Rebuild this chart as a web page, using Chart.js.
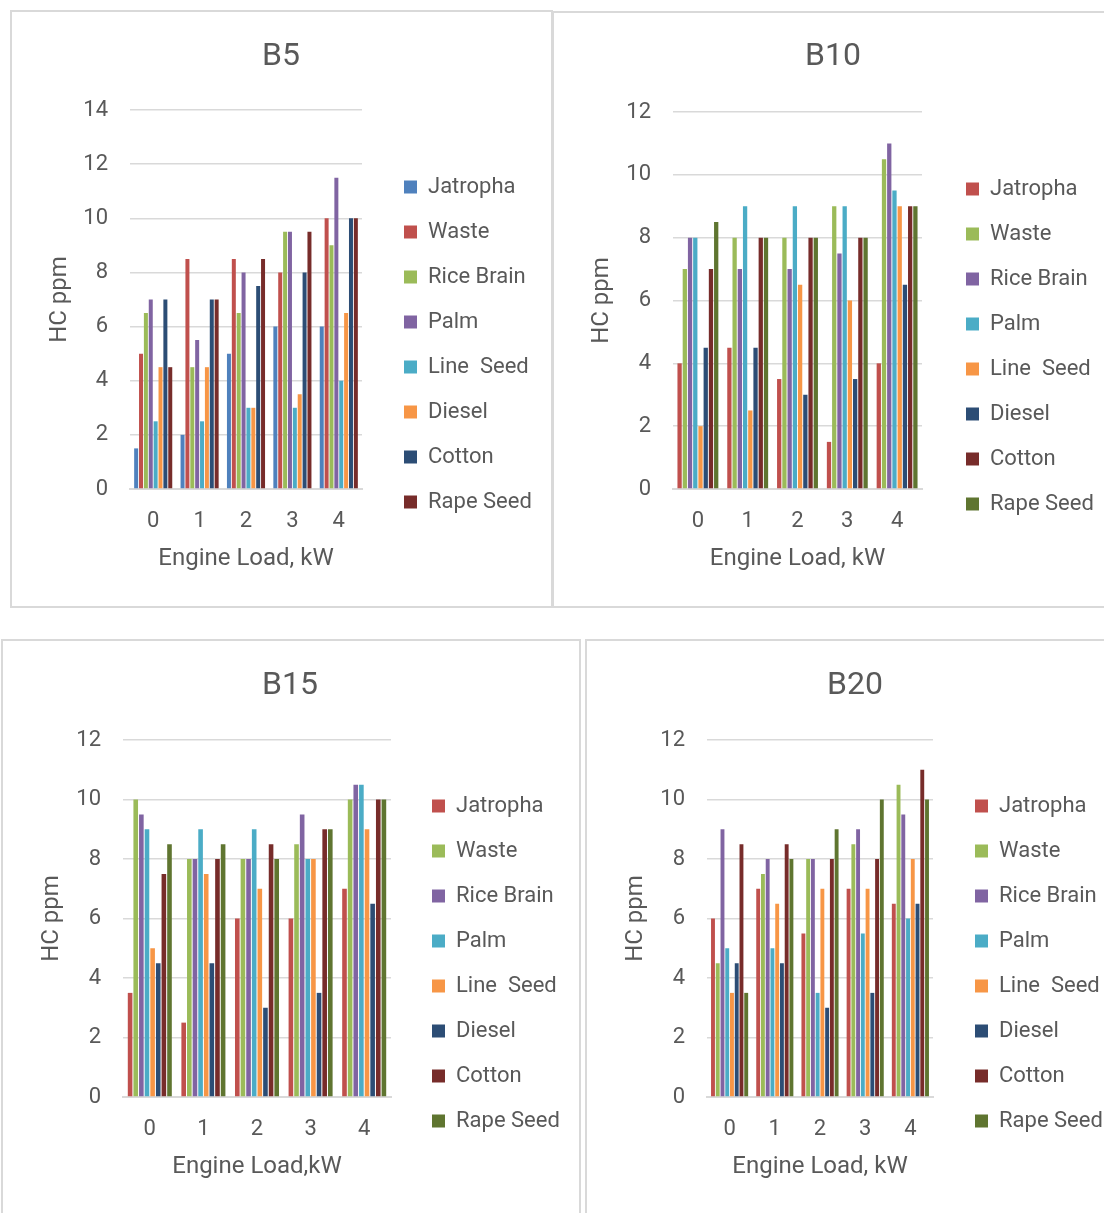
<!DOCTYPE html>
<html>
<head>
<meta charset="utf-8">
<script src="https://cdn.jsdelivr.net/npm/chart.js@4.4.1/dist/chart.umd.min.js"></script>
<style>
  html, body { margin:0; padding:0; background:#fff; overflow:hidden; }
  #page { position:relative; width:1104px; height:1213px; overflow:hidden; }
  .panel { position:absolute; box-sizing:border-box; border:2px solid #d9d9d9; }
  canvas { position:absolute; }
</style>
</head>
<body>
<div id="page">
  <div class="panel" style="left:10px;top:10px;width:543px;height:598px"></div>
  <div class="panel" style="left:552px;top:11px;width:560px;height:597px"></div>
  <div class="panel" style="left:1px;top:639px;width:580px;height:600px"></div>
  <div class="panel" style="left:585px;top:639px;width:530px;height:600px"></div>
</div>
<script>
/* ===== DATA ===== */
const loads = ['0', '1', '2', '3', '4'];
const fuels = ['Jatropha', 'Waste', 'Rice Brain', 'Palm', 'Line  Seed', 'Diesel', 'Cotton', 'Rape Seed'];

// one row per fuel, values at loads 0..4 (HC ppm)
const hcB5 = [
  [1.5, 2, 5, 6, 6],
  [5, 8.5, 8.5, 8, 10],
  [6.5, 4.5, 6.5, 9.5, 9],
  [7, 5.5, 8, 9.5, 11.5],
  [2.5, 2.5, 3, 3, 4],
  [4.5, 4.5, 3, 3.5, 6.5],
  [7, 7, 7.5, 8, 10],
  [4.5, 7, 8.5, 9.5, 10],
];
const hcB10 = [
  [4, 4.5, 3.5, 1.5, 4],
  [7, 8, 8, 9, 10.5],
  [8, 7, 7, 7.5, 11],
  [8, 9, 9, 9, 9.5],
  [2, 2.5, 6.5, 6, 9],
  [4.5, 4.5, 3, 3.5, 6.5],
  [7, 8, 8, 8, 9],
  [8.5, 8, 8, 8, 9],
];
const hcB15 = [
  [3.5, 2.5, 6, 6, 7],
  [10, 8, 8, 8.5, 10],
  [9.5, 8, 8, 9.5, 10.5],
  [9, 9, 9, 8, 10.5],
  [5, 7.5, 7, 8, 9],
  [4.5, 4.5, 3, 3.5, 6.5],
  [7.5, 8, 8.5, 9, 10],
  [8.5, 8.5, 8, 9, 10],
];
const hcB20 = [
  [6, 7, 5.5, 7, 6.5],
  [4.5, 7.5, 8, 8.5, 10.5],
  [9, 8, 8, 9, 9.5],
  [5, 5, 3.5, 5.5, 6],
  [3.5, 6.5, 7, 7, 8],
  [4.5, 4.5, 3, 3.5, 6.5],
  [8.5, 8.5, 8, 8, 11],
  [3.5, 8, 9, 10, 10],
];

/* ===== STYLE ===== */
const coloursB5 = ['#4F81BD','#C0504D','#9BBB59','#8064A2','#4BACC6','#F79646','#2C4D75','#772C2A'];
const colours   = ['#C0504D','#9BBB59','#8064A2','#4BACC6','#F79646','#2C4D75','#772C2A','#5F7530'];

const FAMILY = "Roboto, 'Open Sans', sans-serif";
Chart.defaults.font.family = FAMILY;
Chart.defaults.color = '#595959';

const TXT = '#595959', GRID = '#d9d9d9';
const TITLE_SIZE = 32, AXIS_SIZE = 24, TICK_SIZE = 22, LEG_SIZE = 22, LEG_PAD = 23, BOX = 13;

// page-coordinate targets for each panel
const layouts = {
  B5:  { top:12,  bottom:606,  tx:281, ty:57,  al:130, ar:362, at:110, ab:489,  ytx:60,  xty:559,  lx:404, ly:187 },
  B10: { top:13,  bottom:606,  tx:833, ty:57,  al:673, ar:922, at:112, ab:489,  ytx:602, xty:559,  lx:966, ly:189 },
  B15: { top:641, bottom:1213, tx:290, ty:686, al:123, ar:391, at:740, ab:1097, ytx:52,  xty:1167, lx:432, ly:806 },
  B20: { top:641, bottom:1213, tx:855, ty:686, al:707, ar:933, at:740, ab:1097, ytx:636, xty:1167, lx:975, ly:806 },
};

// width the legend needs for its longest label
function legendNeed() {
  const ctx = document.createElement('canvas').getContext('2d');
  ctx.font = LEG_SIZE + 'px ' + FAMILY;
  const tw = Math.max(...fuels.map(f => ctx.measureText(f).width));
  return Math.ceil(LEG_PAD + BOX + LEG_SIZE / 2 + tw) + 4;
}

/* ===== PANEL CHART ===== */
function panelChart(name, rows, cols, yMax, xTitle) {
  const L = layouts[name];
  const legLeft = L.lx - LEG_PAD;
  const right = legLeft + legendNeed();
  const cx = Math.round(2 * L.tx - right);
  const cw = Math.round(right) - cx;
  const legW = cx + cw - legLeft;
  const spacer = legLeft - L.ar;
  const cy = L.top, ch = L.bottom - L.top;
  const tPadTop = L.ty - cy - TITLE_SIZE * 0.6;
  const tPadBottom = L.at - cy - tPadTop - TITLE_SIZE * 1.2;
  const legTitleH = 2 * (L.ly - cy - LEG_SIZE / 2) - LEG_PAD - ch + fuels.length * (LEG_SIZE + LEG_PAD);

  const cv = document.createElement('canvas');
  cv.width = cw; cv.height = ch;
  cv.style.left = cx + 'px'; cv.style.top = cy + 'px';
  document.getElementById('page').appendChild(cv);

  new Chart(cv, {
    type: 'bar',
    data: {
      labels: loads,
      datasets: fuels.map((f, i) => ({
        label: f, data: rows[i],
        backgroundColor: cols[i], borderWidth: 0,
        categoryPercentage: 0.84, barPercentage: 0.82,
      }))
    },
    options: {
      responsive: false, animation: false,
      layout: { padding: 0 },
      plugins: {
        title: { display: true, text: name, color: TXT,
          font: { size: TITLE_SIZE, weight: 'normal' },
          padding: { top: tPadTop, bottom: tPadBottom } },
        legend: { position: 'right', align: 'center', maxWidth: legW,
          title: { display: true, text: '', font: { size: 10 }, padding: { top: legTitleH - 12, bottom: 0 } },
          labels: { boxWidth: BOX, boxHeight: BOX, padding: LEG_PAD, color: TXT, font: { size: LEG_SIZE } } },
        tooltip: { enabled: false }
      },
      scales: {
        x: { grid: { display: false },
          border: { display: true, color: GRID, width: 2 },
          ticks: { color: TXT, font: { size: TICK_SIZE }, padding: 11 },
          title: { display: true, text: xTitle, color: TXT, font: { size: AXIS_SIZE },
            padding: { top: 0, bottom: L.bottom - L.xty - AXIS_SIZE * 0.6 } },
          afterFit: s => { s.height = L.bottom - L.ab; } },
        y: { min: 0, max: yMax,
          grid: { color: GRID, lineWidth: 1.5, drawTicks: false },
          border: { display: false },
          ticks: { stepSize: 2, color: TXT, font: { size: TICK_SIZE }, padding: 22 },
          title: { display: true, text: 'HC ppm', color: TXT, font: { size: AXIS_SIZE },
            padding: { top: L.ytx - cx - AXIS_SIZE * 0.6, bottom: 0 } },
          afterFit: s => { s.width = L.al - cx; } },
        gap: { type: 'linear', position: 'right', display: true,
          grid: { display: false }, border: { display: false }, ticks: { display: false },
          afterFit: s => { s.width = spacer; } }
      }
    }
  });
}

panelChart('B5',  hcB5,  coloursB5, 14, 'Engine Load, kW');
panelChart('B10', hcB10, colours,   12, 'Engine Load, kW');
panelChart('B15', hcB15, colours,   12, 'Engine Load,kW');
panelChart('B20', hcB20, colours,   12, 'Engine Load, kW');
</script>
</body>
</html>
